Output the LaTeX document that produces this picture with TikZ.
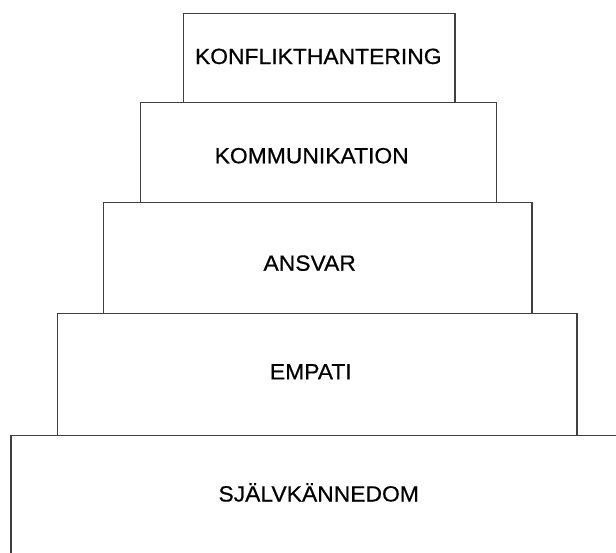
\documentclass[tikz,border=0pt]{standalone}
\usepackage{fontspec}
\setmainfont{Liberation Sans}
\newfontfamily\tierfont[FakeBold=0.5]{Liberation Sans}
\definecolor{linegray}{HTML}{404040}
\begin{document}
\begin{tikzpicture}[x=1pt,y=-1pt,
  tier/.style={draw=linegray, line width=1.3pt, inner sep=0pt, outer sep=0pt},
  lbl/.style={anchor=base, inner sep=0pt, text=black, xscale=1.04, font=\tierfont\fontsize{22}{24}\selectfont}]
\useasboundingbox (0,0) rectangle (616,552);
\fill[white] (0,0) rectangle (616,552);
\node[tier, minimum width=271.5pt, minimum height=89.4pt] (t1) at (319.25,58) {};
\node[tier, minimum width=356.5pt, minimum height=99.6pt] (t2) at (318.45,152.5) {};
\node[tier, minimum width=428.4pt, minimum height=111.2pt] (t3) at (317.8,257.9) {};
\node[tier, minimum width=519.7pt, minimum height=122.2pt] (t4) at (317.15,374.6) {};
\node[tier, minimum width=619pt, minimum height=134.3pt] (t5) at (320.5,502.85) {};
\node[lbl] (l1) at (318.3,64) {KONFLIKTHANTERING};
\node[lbl] (l2) at (311.7,163.3) {KOMMUNIKATION};
\node[lbl] (l3) at (309.7,270.7) {ANSVAR};
\node[lbl] (l4) at (310.8,379.3) {EMPATI};
\node[lbl] (l5) at (318.7,501.5) {SJÄLVKÄNNEDOM};
\end{tikzpicture}
\end{document}
